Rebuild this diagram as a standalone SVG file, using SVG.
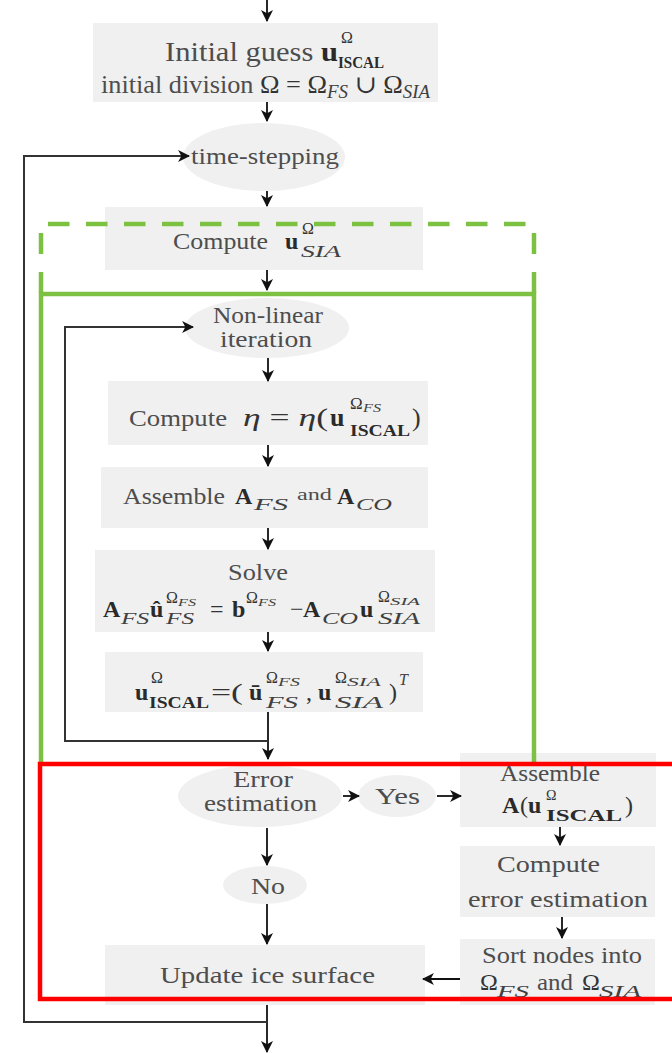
<svg xmlns="http://www.w3.org/2000/svg" width="672" height="1053" viewBox="0 0 672 1053">
<style>
.box{fill:#f0f0f0}
text{font-family:"Liberation Serif","DejaVu Serif",serif;fill:#4d4d4d}
.m{fill:#333}
.b{font-weight:bold;fill:#2a2a2a}
.i{font-style:italic;fill:#404040}
.c{stroke:#111;stroke-width:1.8;fill:none}
.lp{stroke:#333;stroke-width:2;fill:none}
.g{stroke:#7dc142;stroke-width:4.5;fill:none}
.gd{stroke:#7dc142;stroke-width:4.5;fill:none}
.r{stroke:#ff0000;stroke-width:4.5;fill:none}
</style>
<defs>
<marker id="ah" markerUnits="userSpaceOnUse" markerWidth="12" markerHeight="12" refX="10" refY="5.5" orient="auto" viewBox="0 0 11 11">
<path d="M0,0 L11,5.5 L0,11 L3,5.5 z" fill="#111"/>
</marker>
</defs>

<g id="init">
<rect class="box" x="93" y="23" width="345" height="79"/>
<text x="165" y="61" font-size="27" textLength="173" lengthAdjust="spacingAndGlyphs">Initial guess <tspan class="b">u</tspan></text>
<text x="341" y="43" font-size="16" class="m">Ω</text>
<text x="338" y="68" font-size="16" class="b" textLength="46" lengthAdjust="spacingAndGlyphs">ISCAL</text>
<text x="101" y="93" font-size="25" textLength="329" lengthAdjust="spacingAndGlyphs">initial division <tspan class="m">Ω = Ω</tspan><tspan class="i" font-size="18" dy="5">FS</tspan><tspan class="m" dy="-5"> ∪ Ω</tspan><tspan class="i" font-size="18" dy="5">SIA</tspan></text>
</g>

<g id="timestep">
<ellipse class="box" cx="264" cy="157" rx="81" ry="34"/>
<text x="191" y="164" font-size="24" textLength="148" lengthAdjust="spacingAndGlyphs">time-stepping</text>
</g>

<g id="sia">
<rect class="box" x="105" y="207" width="318" height="63"/>
<text x="173" y="249" font-size="24" textLength="95" lengthAdjust="spacingAndGlyphs">Compute</text>
<text x="285" y="249" font-size="24" class="b">u</text>
<text x="302" y="234" font-size="16" class="m">Ω</text>
<text x="301" y="257" font-size="17" class="i" textLength="40" lengthAdjust="spacingAndGlyphs">SIA</text>
</g>

<g id="nonlinear">
<ellipse class="box" cx="267" cy="328" rx="82" ry="30"/>
<text x="213" y="323" font-size="24" textLength="110" lengthAdjust="spacingAndGlyphs">Non-linear</text>
<text x="220" y="347" font-size="24" textLength="92" lengthAdjust="spacingAndGlyphs">iteration</text>
</g>

<g id="eta">
<rect class="box" x="108" y="381" width="320" height="64"/>
<text x="129" y="426" font-size="24" textLength="98" lengthAdjust="spacingAndGlyphs">Compute</text>
<text x="243" y="426" font-size="26" class="m" textLength="85" lengthAdjust="spacingAndGlyphs"><tspan font-style="italic">η</tspan> = <tspan font-style="italic">η</tspan>(</text>
<text x="330" y="426" font-size="26" class="b">u</text>
<text x="350" y="409" font-size="17" class="m">Ω</text>
<text x="363" y="412" font-size="12" class="i" textLength="18" lengthAdjust="spacingAndGlyphs">FS</text>
<text x="350" y="436" font-size="16" class="b" textLength="60" lengthAdjust="spacingAndGlyphs">ISCAL</text>
<text x="412" y="426" font-size="26" class="m">)</text>
</g>

<g id="assemble">
<rect class="box" x="101" y="467" width="327" height="61"/>
<text x="123" y="504" font-size="24" textLength="102" lengthAdjust="spacingAndGlyphs">Assemble</text>
<text x="235" y="504" font-size="24" class="b">A</text>
<text x="254" y="510" font-size="17" class="i" textLength="34" lengthAdjust="spacingAndGlyphs">FS</text>
<text x="297" y="500" font-size="16" textLength="35" lengthAdjust="spacingAndGlyphs">and</text>
<text x="337" y="504" font-size="24" class="b">A</text>
<text x="356" y="510" font-size="17" class="i" textLength="36" lengthAdjust="spacingAndGlyphs">CO</text>
</g>

<g id="solve">
<rect class="box" x="95" y="550" width="340" height="82"/>
<text x="228" y="580" font-size="24" textLength="60" lengthAdjust="spacingAndGlyphs">Solve</text>
<text x="103" y="617" font-size="24" class="b">A</text>
<text x="121" y="624" font-size="16" class="i" textLength="28" lengthAdjust="spacingAndGlyphs">FS</text>
<text x="150" y="617" font-size="24" class="b">û</text>
<text x="166" y="603" font-size="16" class="m">Ω</text>
<text x="178" y="606" font-size="11" class="i" textLength="18" lengthAdjust="spacingAndGlyphs">FS</text>
<text x="166" y="624" font-size="16" class="i" textLength="28" lengthAdjust="spacingAndGlyphs">FS</text>
<text x="210" y="617" font-size="24" class="m">=</text>
<text x="232" y="617" font-size="24" class="b">b</text>
<text x="246" y="603" font-size="16" class="m">Ω</text>
<text x="258" y="606" font-size="11" class="i" textLength="18" lengthAdjust="spacingAndGlyphs">FS</text>
<text x="290" y="617" font-size="24" class="m">−</text>
<text x="303" y="617" font-size="24" class="b">A</text>
<text x="322" y="624" font-size="16" class="i" textLength="36" lengthAdjust="spacingAndGlyphs">CO</text>
<text x="360" y="617" font-size="24" class="b">u</text>
<text x="378" y="602" font-size="16" class="m">Ω</text>
<text x="390" y="605" font-size="11" class="i" textLength="30" lengthAdjust="spacingAndGlyphs">SIA</text>
<text x="378" y="624" font-size="16" class="i" textLength="42" lengthAdjust="spacingAndGlyphs">SIA</text>
</g>

<g id="combine">
<rect class="box" x="105" y="652" width="318" height="60"/>
<text x="135" y="700" font-size="24" class="b">u</text>
<text x="151" y="683" font-size="16" class="m">Ω</text>
<text x="149" y="708" font-size="16" class="b" textLength="60" lengthAdjust="spacingAndGlyphs">ISCAL</text>
<text x="211" y="700" font-size="24" class="m" textLength="32" lengthAdjust="spacingAndGlyphs">=(</text>
<text x="249" y="700" font-size="24" class="b">ū</text>
<text x="266" y="683" font-size="16" class="m">Ω</text>
<text x="278" y="686" font-size="12" class="i" textLength="22" lengthAdjust="spacingAndGlyphs">FS</text>
<text x="266" y="708" font-size="17" class="i" textLength="32" lengthAdjust="spacingAndGlyphs">FS</text>
<text x="306" y="700" font-size="24" class="m">,</text>
<text x="318" y="700" font-size="24" class="b">u</text>
<text x="335" y="683" font-size="16" class="m">Ω</text>
<text x="347" y="686" font-size="12" class="i" textLength="34" lengthAdjust="spacingAndGlyphs">SIA</text>
<text x="335" y="708" font-size="17" class="i" textLength="48" lengthAdjust="spacingAndGlyphs">SIA</text>
<text x="389" y="700" font-size="24" class="m">)</text>
<text x="399" y="685" font-size="16" class="i">T</text>
</g>

<g id="error">
<ellipse class="box" cx="260" cy="796" rx="82" ry="31"/>
<text x="233" y="787" font-size="24" textLength="60" lengthAdjust="spacingAndGlyphs">Error</text>
<text x="204" y="811" font-size="24" textLength="113" lengthAdjust="spacingAndGlyphs">estimation</text>
</g>

<g id="yes">
<ellipse class="box" cx="397" cy="796" rx="39" ry="21"/>
<text x="375" y="804" font-size="24" textLength="45" lengthAdjust="spacingAndGlyphs">Yes</text>
</g>

<g id="no">
<ellipse class="box" cx="265" cy="885" rx="42" ry="19"/>
<text x="251" y="894" font-size="24" textLength="34" lengthAdjust="spacingAndGlyphs">No</text>
</g>

<g id="assembleA">
<rect class="box" x="460" y="753" width="196" height="74"/>
<text x="500" y="781" font-size="24" textLength="100" lengthAdjust="spacingAndGlyphs">Assemble</text>
<text x="502" y="813" font-size="24" class="b">A</text>
<text x="520" y="813" font-size="24" class="m">(</text>
<text x="528" y="813" font-size="24" class="b">u</text>
<text x="546" y="800" font-size="14" class="m">Ω</text>
<text x="546" y="821" font-size="17" class="b" textLength="76" lengthAdjust="spacingAndGlyphs">ISCAL</text>
<text x="625" y="813" font-size="24" class="m">)</text>
</g>

<g id="computeErr">
<rect class="box" x="460" y="846" width="195" height="71"/>
<text x="497" y="872" font-size="24" textLength="103" lengthAdjust="spacingAndGlyphs">Compute</text>
<text x="468" y="907" font-size="24" textLength="180" lengthAdjust="spacingAndGlyphs">error estimation</text>
</g>

<g id="sort">
<rect class="box" x="460" y="939" width="195" height="66"/>
<text x="482" y="963" font-size="24" textLength="160" lengthAdjust="spacingAndGlyphs">Sort nodes into</text>
<text x="480" y="990" font-size="24" class="m">Ω</text>
<text x="497" y="997" font-size="17" class="i" textLength="32" lengthAdjust="spacingAndGlyphs">FS</text>
<text x="537" y="990" font-size="24" textLength="36" lengthAdjust="spacingAndGlyphs">and</text>
<text x="582" y="990" font-size="24" class="m">Ω</text>
<text x="599" y="997" font-size="17" class="i" textLength="42" lengthAdjust="spacingAndGlyphs">SIA</text>
</g>

<g id="update">
<rect class="box" x="105" y="945" width="320" height="60"/>
<text x="160" y="983" font-size="24" textLength="215" lengthAdjust="spacingAndGlyphs">Update ice surface</text>
</g>

<g id="connectors">
<line class="c" x1="267" y1="0" x2="267" y2="21" marker-end="url(#ah)"/>
<line class="c" x1="267" y1="102" x2="267" y2="121" marker-end="url(#ah)"/>
<line class="c" x1="267" y1="191" x2="267" y2="206" marker-end="url(#ah)"/>
<line class="c" x1="267" y1="270" x2="267" y2="290" marker-end="url(#ah)"/>
<line class="c" x1="268" y1="358" x2="268" y2="381" marker-end="url(#ah)"/>
<line class="c" x1="268" y1="445" x2="268" y2="466" marker-end="url(#ah)"/>
<line class="c" x1="268" y1="528" x2="268" y2="549" marker-end="url(#ah)"/>
<line class="c" x1="268" y1="632" x2="268" y2="651" marker-end="url(#ah)"/>
<line class="c" x1="268" y1="712" x2="268" y2="759" marker-end="url(#ah)"/>
<path class="lp" d="M268,741 H65 V327 H193" marker-end="url(#ah)"/>
<line class="c" x1="343" y1="796" x2="359" y2="796" marker-end="url(#ah)"/>
<line class="c" x1="437" y1="796" x2="461" y2="796" marker-end="url(#ah)"/>
<line class="c" x1="560" y1="827" x2="560" y2="845" marker-end="url(#ah)"/>
<line class="c" x1="562" y1="917" x2="562" y2="938" marker-end="url(#ah)"/>
<line class="c" x1="460" y1="979" x2="423" y2="979" marker-end="url(#ah)"/>
<line class="c" x1="267" y1="828" x2="267" y2="865" marker-end="url(#ah)"/>
<line class="c" x1="267" y1="904" x2="267" y2="944" marker-end="url(#ah)"/>
<line class="c" x1="267" y1="1005" x2="267" y2="1052" marker-end="url(#ah)"/>
<path class="lp" d="M267,1022 H24 V156 H189" marker-end="url(#ah)"/>
</g>

<g id="frames">
<line class="gd" x1="48" y1="224" x2="527" y2="224" stroke-dasharray="21.5 16.5"/>
<line class="gd" x1="41" y1="233" x2="41" y2="294" stroke-dasharray="21 18"/>
<line class="gd" x1="534" y1="233" x2="534" y2="294" stroke-dasharray="21 18"/>
<path class="g" d="M41,762 V294 H534 V762"/>
<rect class="r" x="40" y="764" width="680" height="235"/>
</g>
</svg>
